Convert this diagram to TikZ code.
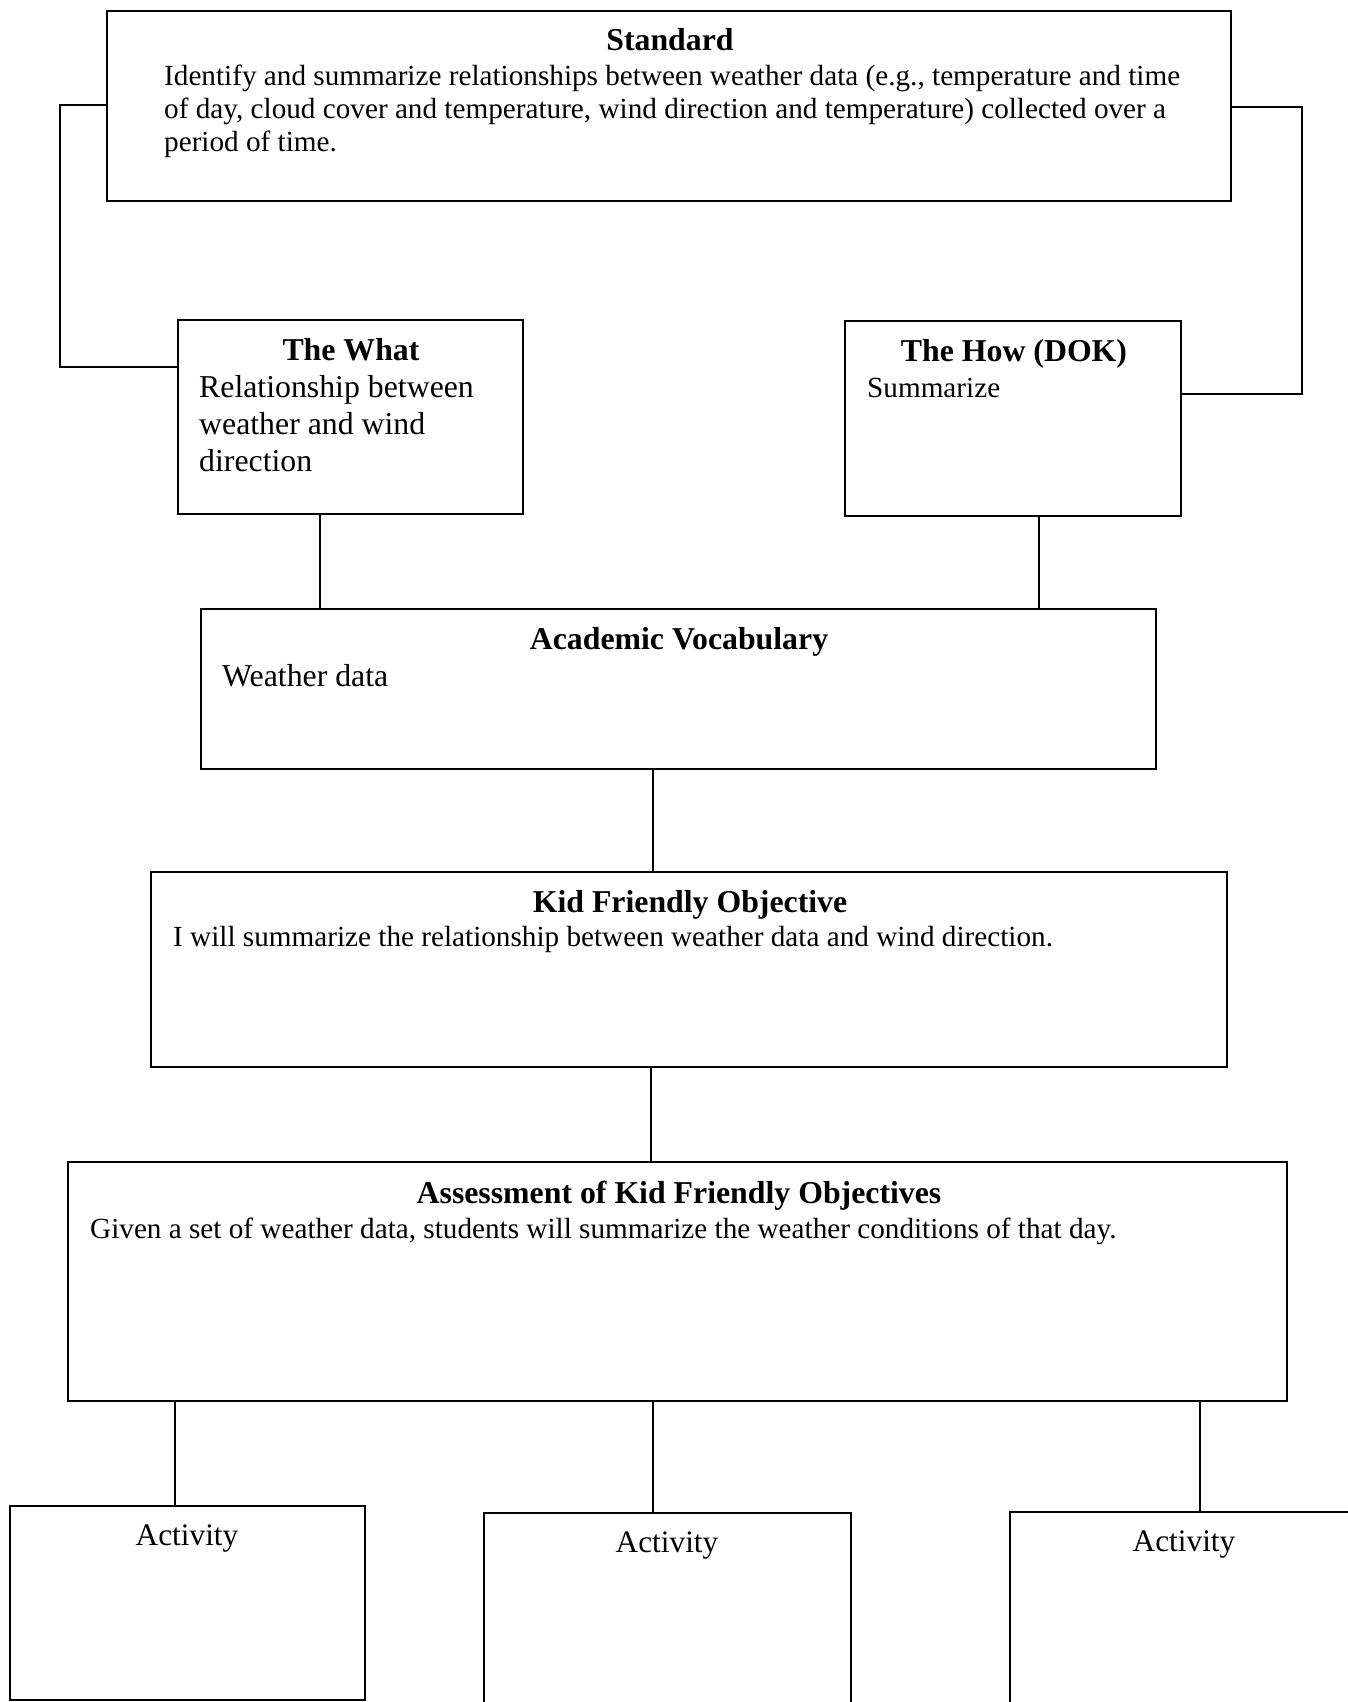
\documentclass[tikz,border=0pt]{standalone}
\usepackage{fontspec}
\setmainfont{Liberation Serif}
\begin{document}
\begin{tikzpicture}[x=1pt,y=-1pt,
  box/.style={draw, line width=2pt, inner sep=0pt, outer sep=0pt, anchor=north west},
  link/.style={line width=1.3pt},
  sidelink/.style={line width=2.2pt},
  hd/.style={anchor=base, inner sep=0pt, font=\fontsize{31.8}{36}\selectfont\bfseries},
  bd/.style={anchor=base west, inner sep=0pt, font=\fontsize{29.2}{33.5}\selectfont, align=left},
  bdl/.style={anchor=base west, inner sep=0pt, font=\fontsize{31.8}{37}\selectfont, align=left},
  act/.style={anchor=base, inner sep=0pt, font=\fontsize{31.3}{37}\selectfont}]
\useasboundingbox[fill=white] (0,0) rectangle (1348,1702);
% boxes
\node[box, minimum width=1124pt, minimum height=190pt] (std) at (107,11) {};
\node[box, minimum width=345pt, minimum height=194pt] (what) at (178,320) {};
\node[box, minimum width=336pt, minimum height=195pt] (how) at (845,321) {};
\node[box, minimum width=955pt, minimum height=160pt] (acad) at (201,609) {};
\node[box, minimum width=1076pt, minimum height=195pt] (kid) at (151,872) {};
\node[box, minimum width=1219pt, minimum height=239pt] (assess) at (68,1162) {};
\node[box, minimum width=355pt, minimum height=194pt] (act1) at (10,1506) {};
\node[box, minimum width=367pt, minimum height=220pt] (act2) at (484,1513) {};
\node[box, minimum width=345pt, minimum height=220pt] (act3) at (1010,1512) {};
% texts
\node[hd] (stdh) at (670,51) {Standard};
\node[bd] (stdb1) at (164,85) {Identify and summarize relationships between weather data (e.g., temperature and time};
\node[bd] (stdb2) at (164,118) {of day, cloud cover and temperature, wind direction and temperature) collected over a};
\node[bd] (stdb3) at (164,151) {period of time.};
\node[hd] (whath) at (351,360) {The What};
\node[bdl] (whatb1) at (199,397) {Relationship between};
\node[bdl] (whatb2) at (199,434) {weather and wind};
\node[bdl] (whatb3) at (199,471) {direction};
\node[hd] (howh) at (1014,361) {The How (DOK)};
\node[bd] (howb) at (867,397) {Summarize};
\node[hd] (acadh) at (679,649) {Academic Vocabulary};
\node[bdl] (acadb) at (222,686) {Weather data};
\node[hd] (kidh) at (690,912) {Kid Friendly Objective};
\node[bd] (kidb) at (173,946) {I will summarize the relationship between weather data and wind direction.};
\node[hd] (assh) at (679,1203) {Assessment of Kid Friendly Objectives};
\node[bd] (assb) at (90,1238) {Given a set of weather data, students will summarize the weather conditions of that day.};
\node[act] (a1t) at (187,1545) {Activity};
\node[act] (a2t) at (667,1552) {Activity};
\node[act] (a3t) at (1184,1551) {Activity};
% side connectors
\coordinate (lk1) at (60,105);
\coordinate (lk2) at (60,367);
\draw[sidelink] (std.west |- lk1) -- (lk1) -- (lk2) -- (what.west |- lk2);
\coordinate (rk1) at (1302,107);
\coordinate (rk2) at (1302,394);
\draw[sidelink] (std.east |- rk1) -- (rk1) -- (rk2) -- (how.east |- rk2);
% vertical connectors
\coordinate (v1) at (320,0);
\coordinate (v2) at (1039,0);
\coordinate (v3) at (653,0);
\coordinate (v4) at (651,0);
\coordinate (v5) at (175,0);
\coordinate (v6) at (653,0);
\coordinate (v7) at (1200,0);
\draw[link] (what.south -| v1) -- (acad.north -| v1);
\draw[link] (how.south -| v2) -- (acad.north -| v2);
\draw[link] (acad.south -| v3) -- (kid.north -| v3);
\draw[link] (kid.south -| v4) -- (assess.north -| v4);
\draw[link] (assess.south -| v5) -- (act1.north -| v5);
\draw[link] (assess.south -| v6) -- (act2.north -| v6);
\draw[link] (assess.south -| v7) -- (act3.north -| v7);
\end{tikzpicture}
\end{document}
